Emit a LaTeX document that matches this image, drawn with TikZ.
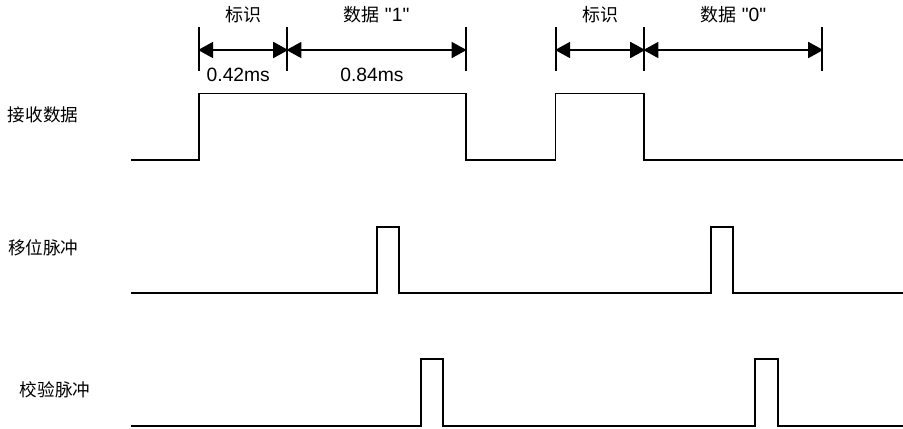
\documentclass[tikz,border=0pt]{standalone}
\usepackage{fontspec}
\setmainfont{Liberation Sans}[Scale=1.07,Ligatures=TeXOff]
\newfontfamily\cjk{Noto Sans CJK SC}
\usetikzlibrary{arrows.meta}
\begin{document}
\begin{tikzpicture}[x={(1bp,0)},y={(0,-1bp)},
  sig/.style={line width=1.8bp,line join=miter},
  tickline/.style={line width=1.8bp},
  dimarrow/.style={line width=1.8bp,{Triangle[length=15bp,width=16bp]}-{Triangle[length=15bp,width=16bp]},shorten <=-0.9bp,shorten >=-0.9bp},
  lbl/.style={inner sep=0pt,font=\fontsize{18bp}{20bp}\selectfont},
  siglbl/.style={inner sep=0pt,font=\fontsize{17.6bp}{20bp}\selectfont\cjk}]
\useasboundingbox (0,0) rectangle (903,428);
% tick coordinates
\foreach \n/\x in {a/199,b/287.3,c/465.7,d/556,e/644.3,f/822.3}{
  \coordinate (\n top) at (\x,27);
  \coordinate (\n bot) at (\x,71);
  \coordinate (\n mid) at (\x,50);
  \draw[tickline] (\n top) -- (\n bot);
}
\draw[dimarrow] (amid) -- (bmid);
\draw[dimarrow] (bmid) -- (cmid);
\draw[dimarrow] (dmid) -- (emid);
\draw[dimarrow] (emid) -- (fmid);
% labels above
\node[lbl] (t1) at (243.2,15) {\cjk 标识};
\node[lbl] (t2) at (376.5,15) {{\cjk 数据} "1"};
\node[lbl] (t3) at (600.2,15) {\cjk 标识};
\node[lbl] (t4) at (733.3,15) {{\cjk 数据} "0"};
\node[lbl] (m1) at (238.3,75) {0.42ms};
\node[lbl] (m2) at (372,75) {0.84ms};
% signal names
\node[siglbl] (s1) at (43,115) {接收数据};
\node[siglbl] (s2) at (43.3,248) {移位脉冲};
\node[siglbl] (s3) at (55,390) {校验脉冲};
% receive data
\draw[sig] (131,159.7) -- (199,159.7) -- (199,93.5) -- (465.7,93.5) -- (465.7,159.7)
  -- (555.5,159.7) -- (555.5,93.5) -- (644.3,93.5) -- (644.3,159.7) -- (903,159.7);
% shift pulse
\draw[sig] (131,292.7) -- (377.3,292.7) -- (377.3,226.7) -- (399.3,226.7) -- (399.3,292.7)
  -- (710.7,292.7) -- (710.7,226.7) -- (733.3,226.7) -- (733.3,292.7) -- (903,292.7);
% check pulse
\draw[sig] (131,425.8) -- (421.3,425.8) -- (421.3,359.3) -- (443.3,359.3) -- (443.3,425.8)
  -- (755.3,425.8) -- (755.3,359.3) -- (778,359.3) -- (778,425.8) -- (903,425.8);
\end{tikzpicture}
\end{document}
